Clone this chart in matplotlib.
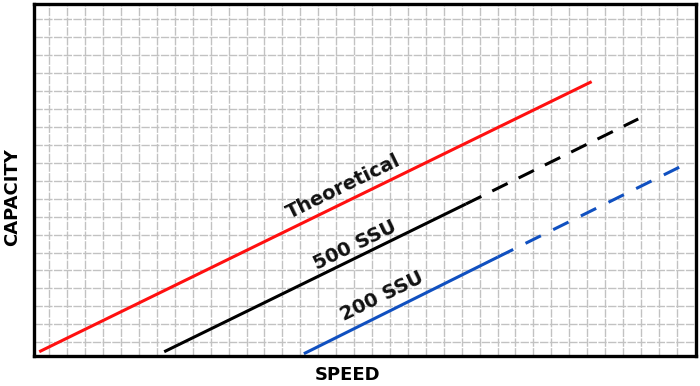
import matplotlib
matplotlib.use("Agg")
import matplotlib.pyplot as plt

# Data (in grid-cell units, origin at the lower-left corner of the frame)
theoretical_x = [0.32, 31.13]
theoretical_y = [0.21, 15.27]

ssu500_solid_x = [7.29, 24.12]
ssu500_solid_y = [0.21, 8.45]
ssu500_dash_x = [24.12, 33.73]
ssu500_dash_y = [8.45, 13.19]

ssu200_solid_x = [15.08, 25.9]
ssu200_solid_y = [0.1, 5.49]
ssu200_dash_x = [25.9, 36.02]
ssu200_dash_y = [5.49, 10.5]

labels = ["Theoretical", "500 SSU", "200 SSU"]
label_x = [17.29, 17.93, 19.43]
label_y = [9.43, 6.16, 3.32]

fig = plt.figure(figsize=(7, 3.86), dpi=100)
ax = fig.add_axes([33.5 / 700, (386 - 355.5) / 386, (696 - 33.5) / 700, (355.5 - 4) / 386])

ax.set_xlim(0, 36.95)
ax.set_ylim(0, 19.6)

# dashed gray grid
for k in range(36):
    ax.axvline(0.88 + k, color="#c2c2c2", lw=1.0, dashes=(6, 1), zorder=1)
for k in range(19):
    ax.axhline(0.74 + k, color="#c2c2c2", lw=1.0, dashes=(6, 1), zorder=1)

ax.plot(theoretical_x, theoretical_y, color="#ff1010", lw=2.2, solid_capstyle="butt", zorder=3)
ax.plot(ssu500_solid_x, ssu500_solid_y, color="black", lw=2.2, solid_capstyle="butt", zorder=3)
ax.plot(ssu500_dash_x, ssu500_dash_y, color="black", lw=2.2, dashes=(5.6, 4), zorder=3)
ax.plot(ssu200_solid_x, ssu200_solid_y, color="#1050c0", lw=2.2, solid_capstyle="butt", zorder=3)
ax.plot(ssu200_dash_x, ssu200_dash_y, color="#1050c0", lw=2.2, dashes=(5.6, 4.5), zorder=3)

for txt, x, y in zip(labels, label_x, label_y):
    ax.text(x, y, txt, rotation=26, rotation_mode="anchor", ha="center", va="center",
            fontsize=14, fontweight="bold", color="#111111", zorder=4)

ax.set_xticks([])
ax.set_yticks([])
for sp in ax.spines.values():
    sp.set_linewidth(2.4)
    sp.set_color("black")
    sp.set_zorder(5)

fig.text(348 / 700, 1 - 375 / 386, "SPEED", ha="center", va="center",
         fontsize=13, fontweight="bold")
fig.text(12 / 700, 1 - 197 / 386, "CAPACITY", ha="center", va="center",
         rotation=90, fontsize=13, fontweight="bold")

fig.savefig("out.png", dpi=100)
